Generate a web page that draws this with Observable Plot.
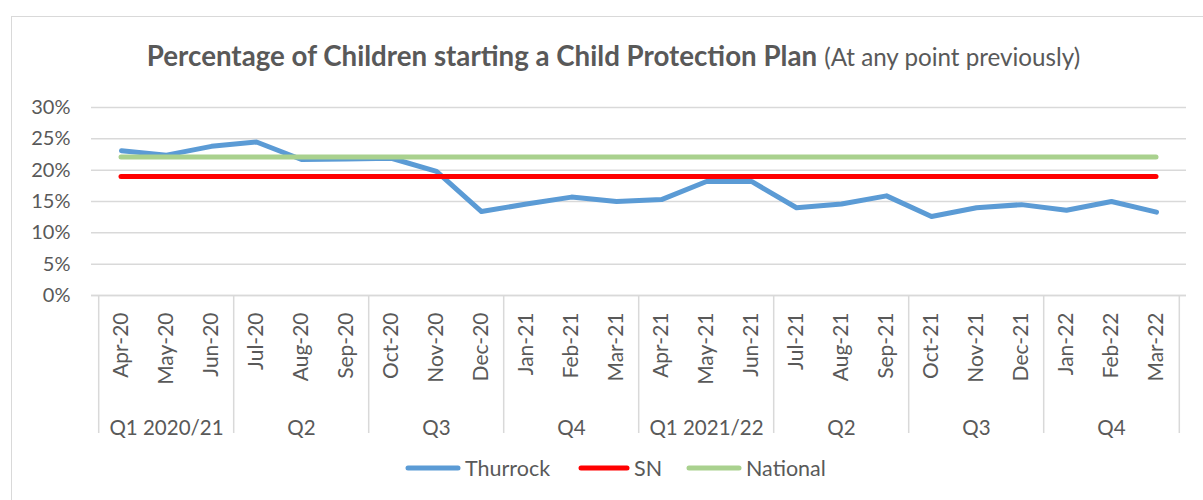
<!DOCTYPE html>
<html>
<head>
<meta charset="utf-8">
<script src="https://cdn.jsdelivr.net/npm/d3@7"></script>
<script src="https://cdn.jsdelivr.net/npm/@observablehq/plot@0.6"></script>
<style>
  html, body { margin: 0; padding: 0; background: #fff; }
  body { width: 1203px; height: 500px; overflow: hidden; position: relative; font-family: Lato, "Open Sans", sans-serif; color: #595959; }
  #frame { position: absolute; left: 11px; top: 16px; width: 1400px; height: 700px; border: 1.5px solid #D9D9D9; box-sizing: border-box; }
  #title { position: absolute; left: 0; width: 1227px; top: 40px; text-align: center; white-space: nowrap; font-size: 27.7px; line-height: 32px; }
  #title b { font-weight: 700; }
  #title span { font-size: 24.2px; }
  #chart { position: absolute; left: 0; top: 90px; }
  .leg { position: absolute; top: 455px; height: 26px; display: flex; align-items: center; font-size: 21.5px; white-space: nowrap; }
  .leg svg { margin-right: 4px; }
</style>
</head>
<body>
<div id="frame"></div>
<div id="title"><b>Percentage of Children starting a Child Protection Plan</b> <span>(At any point previously)</span></div>
<div id="chart"></div>
<div id="legend"></div>
<script>
const months = ["Apr-20","May-20","Jun-20","Jul-20","Aug-20","Sep-20","Oct-20","Nov-20","Dec-20","Jan-21","Feb-21","Mar-21",
                "Apr-21","May-21","Jun-21","Jul-21","Aug-21","Sep-21","Oct-21","Nov-21","Dec-21","Jan-22","Feb-22","Mar-22"];
const thurrock = [23.1, 22.4, 23.8, 24.5, 21.7, 21.8, 21.9, 19.8, 13.4, 14.6, 15.7, 15.0,
                  15.3, 18.2, 18.2, 14.0, 14.6, 15.9, 12.6, 14.0, 14.5, 13.6, 15.0, 13.3];
const snValue = 19.0;
const nationalValue = 22.1;
const quarterLabels = ["Q1 2020/21","Q2","Q3","Q4","Q1 2021/22","Q2","Q3","Q4"];
const yTicks = [0, 5, 10, 15, 20, 25, 30];
const seriesNames = ["Thurrock", "SN", "National"];
const seriesColors = ["#5B9BD5", "#FF0000", "#A9D18E"];

const W = 1203, ML = 91, MR = 17;
const step = (W - ML - MR) / months.length;

const rows = months.map((m, i) => ({month: m, value: thurrock[i]}));
const quarters = quarterLabels.map((q, i) => ({label: q, mid: months[i * 3 + 1]}));
const leftEdges = months.filter((m, i) => i % 3 === 0);
const rightEdge = [months[months.length - 1]];
const firstM = months[0], lastM = months[months.length - 1];
const gridC = "#D9D9D9";

const chart = Plot.plot({
  width: W, height: 360,
  marginLeft: ML, marginRight: MR, marginTop: 17, marginBottom: 155,
  style: {fontFamily: "Lato, 'Open Sans', sans-serif", color: "#595959", background: "transparent", overflow: "visible"},
  x: {type: "point", domain: months, padding: 0.5, label: null},
  y: {domain: [0, 30], label: null},
  marks: [
    Plot.gridY(yTicks, {stroke: gridC, strokeOpacity: 1, strokeWidth: 1.5}),
    Plot.axisY(yTicks, {tickSize: 0, tickPadding: 21, fontSize: 20, tickFormat: d => d + "%", label: null}),
    Plot.axisX({tickSize: 0, tickRotate: -90, tickPadding: 17, fontSize: 21, label: null}),
    Plot.ruleY([0], {stroke: gridC, strokeWidth: 1.5}),
    Plot.ruleX(leftEdges, {x: d => d, dx: -step / 2, insetTop: 188, insetBottom: -138, stroke: gridC, strokeWidth: 1.5}),
    Plot.ruleX(rightEdge, {x: d => d, dx: step / 2, insetTop: 188, insetBottom: -138, stroke: gridC, strokeWidth: 1.5}),
    Plot.text(quarters, {x: "mid", y: 0, text: "label", dy: 133, fontSize: 20.5, fill: "#595959", textAnchor: "middle", lineAnchor: "middle"}),
    Plot.line(rows, {x: "month", y: "value", stroke: seriesColors[0], strokeWidth: 5, strokeLinecap: "round", strokeLinejoin: "round"}),
    Plot.ruleY([snValue], {x1: () => firstM, x2: () => lastM, stroke: seriesColors[1], strokeWidth: 5, strokeLinecap: "round"}),
    Plot.ruleY([nationalValue], {x1: () => firstM, x2: () => lastM, stroke: seriesColors[2], strokeWidth: 5, strokeLinecap: "round"})
  ]
});
document.getElementById("chart").appendChild(chart);

const legendX = [405, 578, 686];
const legendSw = [56, 52, 56];
const legend = document.getElementById("legend");
seriesNames.forEach((name, i) => {
  const d = document.createElement("div");
  d.className = "leg";
  d.style.left = legendX[i] + "px";
  d.innerHTML = `<svg width="${legendSw[i]}" height="10"><line x1="3" y1="5" x2="${legendSw[i] - 3}" y2="5" stroke="${seriesColors[i]}" stroke-width="5" stroke-linecap="round"/></svg><span>${name}</span>`;
  legend.appendChild(d);
});
</script>
</body>
</html>
